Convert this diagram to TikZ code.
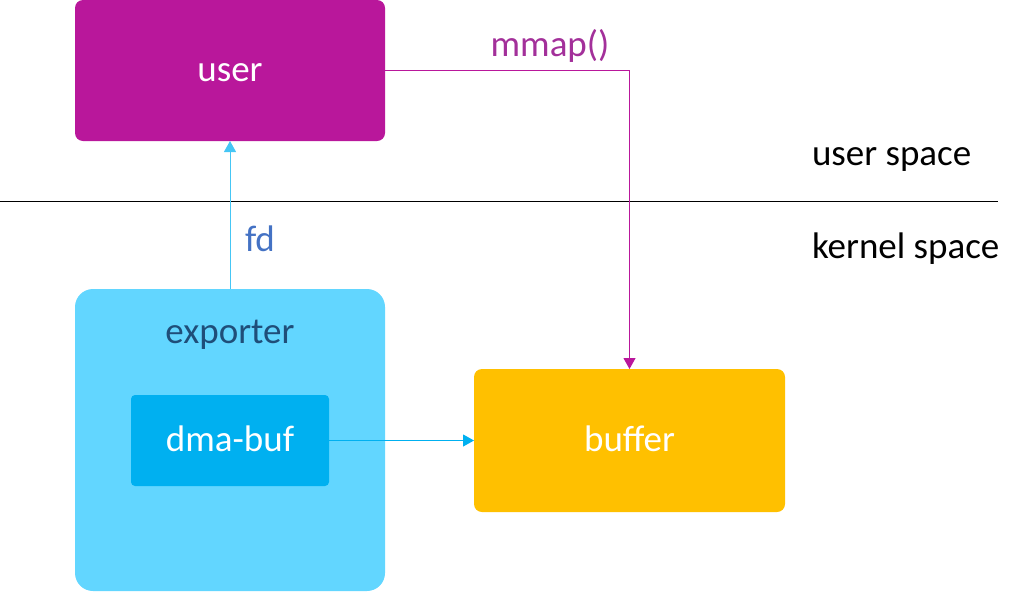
\documentclass[tikz,border=0pt]{standalone}
\usepackage{fontspec}
\setmainfont{Carlito}
\usetikzlibrary{arrows.meta}
\definecolor{usermag}{HTML}{B9179B}
\definecolor{mmaptxt}{HTML}{A3309A}
\definecolor{expfill}{HTML}{62D6FF}
\definecolor{dmafill}{HTML}{00B0F0}
\definecolor{buffill}{HTML}{FFC000}
\definecolor{fdline}{HTML}{45C6F5}
\definecolor{fdtxt}{HTML}{4472C4}
\definecolor{exptxt}{HTML}{1F4E79}
\tikzset{
  every node/.style={font=\fontsize{37}{44}\selectfont, inner sep=0pt, outer sep=0pt, text height=30pt, text depth=8pt},
  boxstyle/.style={draw=none, rectangle, text=white},
  arr/.style={-{Triangle[length=11pt,width=12pt]}, line width=1pt},
}
\begin{document}
\begin{tikzpicture}[x=1pt,y=-1pt]
\useasboundingbox (0,0) rectangle (1030,592);
% nodes
\node[boxstyle, fill=usermag, rounded corners=8pt, minimum width=310pt, minimum height=141pt] (user) at (230,70.5) {user};
\node[boxstyle, fill=expfill, rounded corners=18pt, minimum width=310pt, minimum height=302pt] (exporter) at (230,440) {};
\node[text=exptxt] (explabel) at (230,332) {exporter};
\node[boxstyle, fill=dmafill, rounded corners=4pt, minimum width=198pt, minimum height=91pt] (dmabuf) at (230,440.5) {dma-buf};
\node[boxstyle, fill=buffill, rounded corners=8pt, minimum width=311pt, minimum height=143pt] (buffer) at (629.5,440.5) {buffer};
\node[anchor=west] (userspace) at (812,154) {user space};
\node[anchor=west] (kernelspace) at (812,247) {kernel space};
\node[text=mmaptxt] (mmaplbl) at (550,45) {mmap()};
\node[text=fdtxt] (fdlbl) at (260,240) {fd};
% separator
\coordinate (sepL) at (0,201);
\coordinate (sepR) at (998,201);
\draw[line width=1pt, black] (sepL) -- (sepR);
% connectors
\draw[arr, fdline] (exporter.north) -- (user.south);
\draw[arr, dmafill] (dmabuf.east) -- (buffer.west);
\draw[arr, usermag] (user.east) -| (buffer.north);
\end{tikzpicture}
\end{document}
